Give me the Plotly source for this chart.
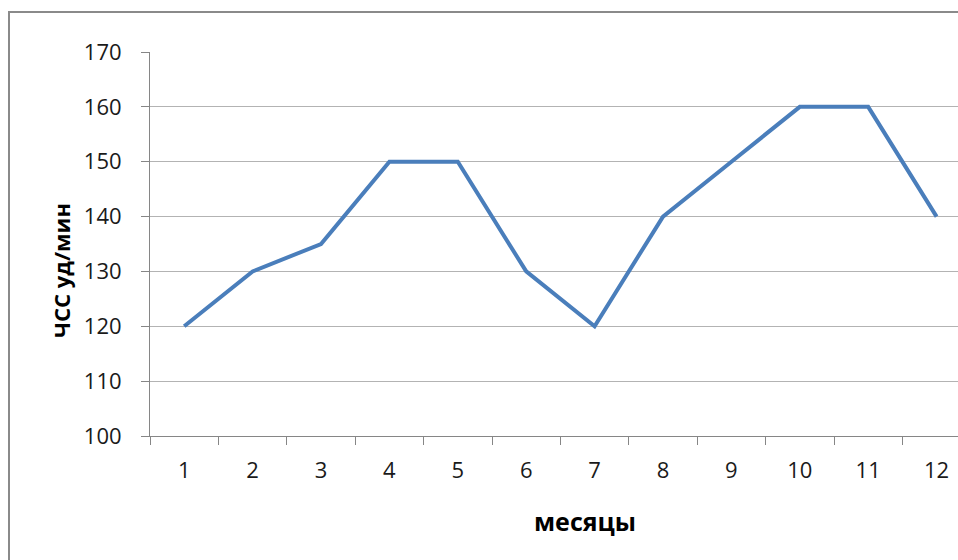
import plotly.graph_objects as go

# Monthly heart rate
months = list(range(1, 13))
month_labels = [str(m) for m in months]
heart_rate = [120, 130, 135, 150, 150, 130, 120, 140, 150, 160, 160, 140]

y_ticks = list(range(100, 171, 10))

W, H = 958, 560
L, T, B = 150, 52, 124
R = 0
plot_w = W - L - R
plot_h = H - T - B
step = 68.4  # pixel width of one month category
x_lo = 0.5
x_hi = x_lo + plot_w / step

fig = go.Figure(
    go.Scatter(
        x=months,
        y=heart_rate,
        mode="lines",
        line=dict(color="#4a7ebb", width=4),
        cliponaxis=False,
        hoverinfo="x+y",
    )
)

axis_gray = "#868686"
font_family = "Open Sans, Liberation Sans, sans-serif"
tick_font = dict(family=font_family, color="#1a1a1a", size=22)


def px_to_paper_x(px):
    return (px - L) / plot_w


def px_to_paper_y(py):
    return (H - B - py) / plot_h


fig.update_layout(
    width=W,
    height=H,
    margin=dict(l=L, r=R, t=T, b=B),
    paper_bgcolor="white",
    plot_bgcolor="white",
    showlegend=False,
    font=dict(family=font_family, color="#1a1a1a", size=22),
    xaxis=dict(
        range=[x_lo, x_hi],
        tickmode="array",
        tickvals=months,
        ticktext=month_labels,
        tickfont=tick_font,
        ticks="",
        showgrid=False,
        zeroline=False,
        showline=True,
        linecolor=axis_gray,
        linewidth=1,
        ticklabelstandoff=15,
        minor=dict(
            tickmode="linear",
            tick0=0.5,
            dtick=1,
            ticks="outside",
            ticklen=8,
            tickcolor=axis_gray,
            tickwidth=1,
            showgrid=False,
        ),
        fixedrange=True,
    ),
    yaxis=dict(
        range=[100, 170],
        tickmode="array",
        tickvals=y_ticks,
        tickfont=tick_font,
        ticks="outside",
        ticklen=8,
        tickcolor=axis_gray,
        showgrid=True,
        gridcolor="#b3b3b3",
        gridwidth=1,
        zeroline=False,
        showline=True,
        linecolor=axis_gray,
        linewidth=1,
        ticklabelstandoff=15,
        fixedrange=True,
    ),
)

# Axis titles
fig.add_annotation(
    text="<b>месяцы</b>",
    xref="paper",
    yref="paper",
    x=px_to_paper_x(585),
    y=px_to_paper_y(521),
    xanchor="center",
    yanchor="middle",
    showarrow=False,
    font=dict(size=25, family=font_family, color="#000000"),
)
fig.add_annotation(
    text="<b>ЧСС уд/мин</b>",
    xref="paper",
    yref="paper",
    x=px_to_paper_x(61),
    y=px_to_paper_y(271),
    xanchor="center",
    yanchor="middle",
    textangle=-90,
    showarrow=False,
    font=dict(size=22, family=font_family, color="#000000"),
)

# Outer chart frame, partly running past the right and bottom edges
fig.add_shape(
    type="rect",
    xref="paper",
    yref="paper",
    x0=px_to_paper_x(9),
    x1=px_to_paper_x(990),
    y0=px_to_paper_y(600),
    y1=px_to_paper_y(12),
    line=dict(color="#8a8a8a", width=2),
    fillcolor="rgba(0,0,0,0)",
    layer="below",
)

fig.write_html("out.html")
